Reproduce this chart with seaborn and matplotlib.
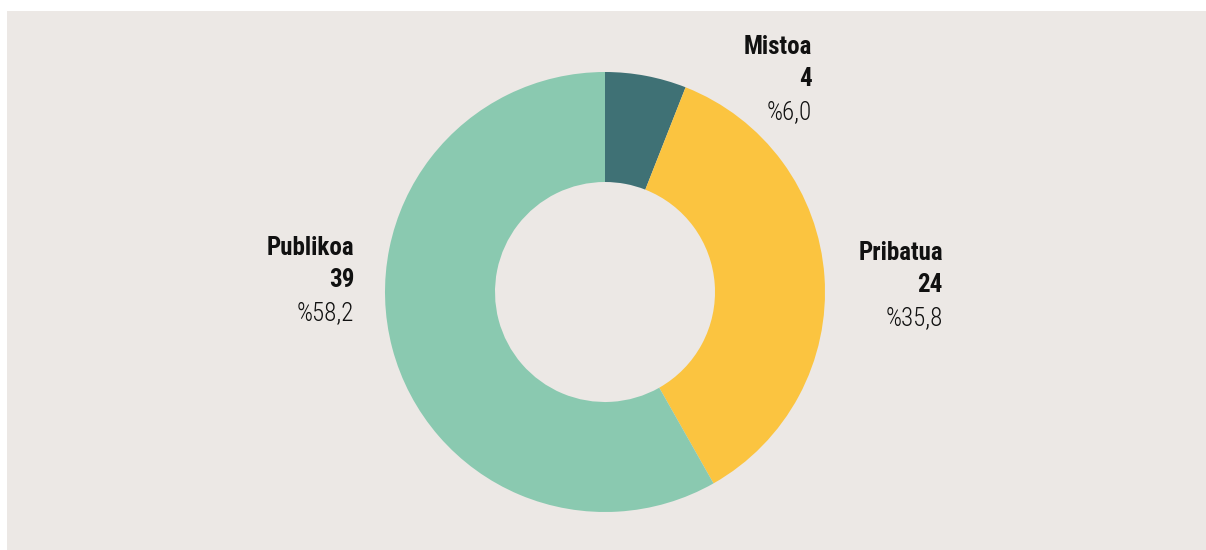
import matplotlib
matplotlib.use("Agg")
import matplotlib.pyplot as plt
from matplotlib import font_manager
from matplotlib.patches import Rectangle
import seaborn as sns

# data
categories = ["Mistoa", "Pribatua", "Publikoa"]
counts = [4, 24, 39]
percent_labels = ["%6,0", "%35,8", "%58,2"]
colors = ["#3F7175", "#FBC440", "#8AC9B0"]

sns.set_theme(style="white")


def pick_font(names):
    for n in names:
        try:
            font_manager.findfont(n, fallback_to_default=False)
            return n
        except Exception:
            pass
    return "DejaVu Sans"


font = pick_font(["Roboto Condensed", "Liberation Sans Narrow", "Roboto", "DejaVu Sans"])
plt.rcParams["font.family"] = [font, "DejaVu Sans"]

W, H = 1206, 550
fig = plt.figure(figsize=(W / 100, H / 100), dpi=100)
fig.patch.set_facecolor("white")

ax = fig.add_axes([0, 0, 1, 1])
ax.axis("off")
ax.patch.set_alpha(0)
# background panel
ax.add_patch(Rectangle((7, 0), W - 7, H - 11, facecolor="#ECE8E5", edgecolor="none", zorder=0))

ax.pie(counts, colors=colors, startangle=90, counterclock=False,
       center=(605, H - 292), radius=220,
       wedgeprops=dict(width=110, edgecolor="none", zorder=2))
ax.set_xlim(0, W)
ax.set_ylim(0, H)
ax.set_aspect("equal")

# label anchors (right edge x, first line y) in pixel coords
label_pos = {"Mistoa": (812, 47), "Pribatua": (943, 253), "Publikoa": (354, 248)}
for cat, n, pct in zip(categories, counts, percent_labels):
    x, y = label_pos[cat]
    ax.text(x, H - y, cat, ha="right", va="center", fontsize=18, fontweight="semibold", color="#111111")
    ax.text(x, H - y - 32, str(n), ha="right", va="center", fontsize=18, fontweight="semibold", color="#111111")
    ax.text(x, H - y - 65, pct, ha="right", va="center", fontsize=18, fontweight="light", color="#111111")

fig.savefig("out.png", dpi=100, facecolor=fig.get_facecolor())
